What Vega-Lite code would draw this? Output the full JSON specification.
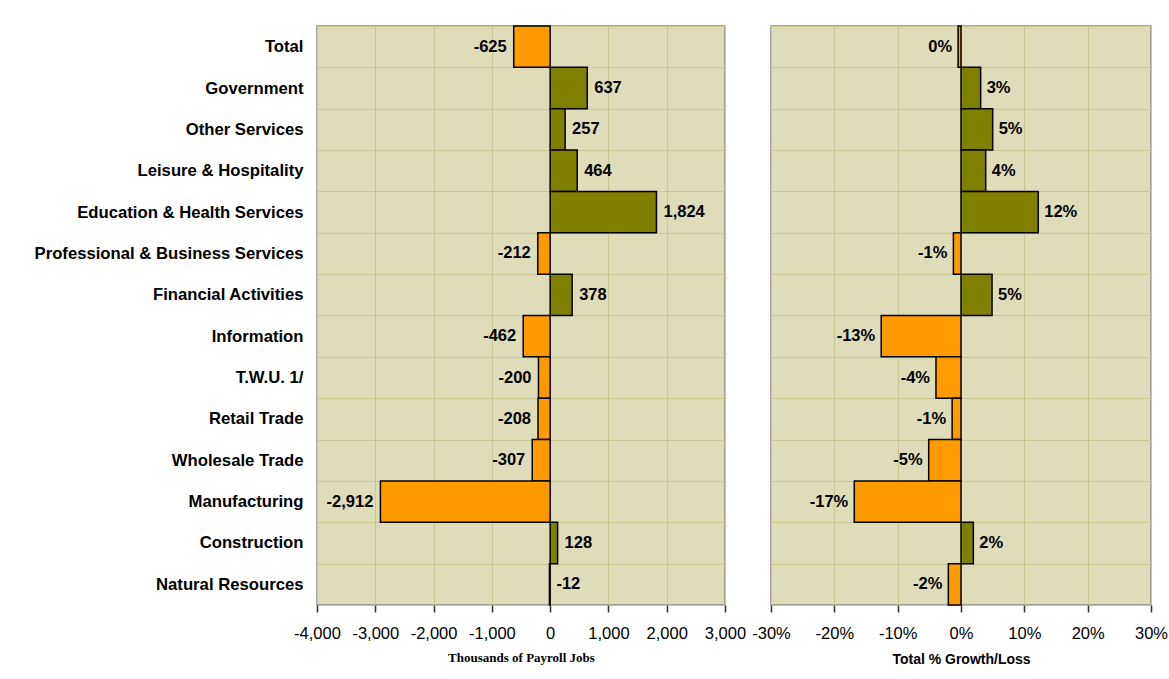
{
  "$schema": "https://vega.github.io/schema/vega-lite/v6.json",
  "background": "white",
  "padding": {"left": 33, "top": 17, "right": 5, "bottom": 5},
  "config": {
    "locale": {"number": {"decimal": ".", "thousands": ",", "grouping": [3], "currency": ["$", ""], "minus": "-"}},
    "font": "Liberation Sans",
    "view": {"stroke": "#8a8a8a", "strokeWidth": 1.5, "fill": "#DFDDB9"},
    "axis": {"gridColor": "#C9C78F", "gridWidth": 1, "gridOpacity": 1, "labelColor": "black", "titleColor": "black"}
  },
  "data": {
    "values": [
      {"sector": "Total", "jobs": -625, "pct": -0.0046},
      {"sector": "Government", "jobs": 637, "pct": 0.031},
      {"sector": "Other Services", "jobs": 257, "pct": 0.05},
      {"sector": "Leisure & Hospitality", "jobs": 464, "pct": 0.039},
      {"sector": "Education & Health Services", "jobs": 1824, "pct": 0.122},
      {"sector": "Professional & Business Services", "jobs": -212, "pct": -0.012},
      {"sector": "Financial Activities", "jobs": 378, "pct": 0.049},
      {"sector": "Information", "jobs": -462, "pct": -0.126},
      {"sector": "T.W.U. 1/", "jobs": -200, "pct": -0.0395},
      {"sector": "Retail Trade", "jobs": -208, "pct": -0.014},
      {"sector": "Wholesale Trade", "jobs": -307, "pct": -0.051},
      {"sector": "Manufacturing", "jobs": -2912, "pct": -0.1685},
      {"sector": "Construction", "jobs": 128, "pct": 0.0195},
      {"sector": "Natural Resources", "jobs": -12, "pct": -0.02}
    ]
  },
  "spacing": 46,
  "bounds": "flush",
  "hconcat": [
    {
      "width": 408,
      "height": 579,
      "encoding": {
        "y": {
          "field": "sector", "type": "nominal", "sort": null,
          "scale": {"paddingInner": 0, "paddingOuter": 0},
          "axis": {
            "title": null, "labelFontSize": 16.7, "labelFontWeight": "bold", "labelPadding": 14, "labelLimit": 0,
            "ticks": false, "tickSize": 0, "domain": false, "grid": true, "tickBand": "extent"
          }
        },
        "x": {
          "field": "jobs", "type": "quantitative",
          "scale": {"domain": [-4000, 3000], "nice": false},
          "axis": {
            "values": [-4000, -3000, -2000, -1000, 0, 1000, 2000, 3000],
            "format": ",d", "title": "Thousands of Payroll Jobs",
            "titleFont": "Liberation Serif", "titleFontSize": 13, "titleFontWeight": "bold", "titlePadding": 10,
            "labelFontSize": 16.5, "labelPadding": 13, "labelFlush": false, "labelOverlap": false,
            "tickSize": 7, "tickColor": "#333333", "tickWidth": 1.5, "domain": false, "grid": true
          }
        }
      },
      "layer": [
        {
          "mark": {"type": "bar", "stroke": "black", "strokeWidth": 1.5},
          "encoding": {
            "fill": {"condition": {"test": "datum.jobs < 0", "value": "#FF9A00"}, "value": "#808000"}
          }
        },
        {
          "transform": [{"filter": "datum.jobs > -50"}],
          "mark": {"type": "text", "align": "left", "baseline": "middle", "dx": 7, "fontSize": 16.5, "fontWeight": "bold", "color": "black"},
          "encoding": {"text": {"field": "jobs", "type": "quantitative", "format": ",d"}}
        },
        {
          "transform": [{"filter": "datum.jobs <= -50"}],
          "mark": {"type": "text", "align": "right", "baseline": "middle", "dx": -7, "fontSize": 16.5, "fontWeight": "bold", "color": "black"},
          "encoding": {"text": {"field": "jobs", "type": "quantitative", "format": ",d"}}
        }
      ]
    },
    {
      "width": 380,
      "height": 579,
      "encoding": {
        "y": {
          "field": "sector", "type": "nominal", "sort": null,
          "scale": {"paddingInner": 0, "paddingOuter": 0},
          "axis": {
            "title": null, "labels": false, "ticks": false, "tickSize": 0, "domain": false, "grid": true, "tickBand": "extent"
          }
        },
        "x": {
          "field": "pct", "type": "quantitative",
          "scale": {"domain": [-0.3, 0.3], "nice": false},
          "axis": {
            "values": [-0.3, -0.2, -0.1, 0, 0.1, 0.2, 0.3],
            "format": ".0%", "title": "Total % Growth/Loss",
            "titleFontSize": 14, "titleFontWeight": "bold", "titlePadding": 11,
            "labelFontSize": 16.5, "labelPadding": 13, "labelFlush": false, "labelOverlap": false,
            "tickSize": 7, "tickColor": "#333333", "tickWidth": 1.5, "domain": false, "grid": true
          }
        }
      },
      "layer": [
        {
          "mark": {"type": "bar", "stroke": "black", "strokeWidth": 1.5},
          "encoding": {
            "fill": {"condition": {"test": "datum.pct < 0", "value": "#FF9A00"}, "value": "#808000"}
          }
        },
        {
          "transform": [{"filter": "datum.pct >= 0"}],
          "mark": {"type": "text", "align": "left", "baseline": "middle", "dx": 6, "fontSize": 16.5, "fontWeight": "bold", "color": "black"},
          "encoding": {"text": {"field": "pct", "type": "quantitative", "format": ".0%"}}
        },
        {
          "transform": [{"filter": "datum.pct < 0"}],
          "mark": {"type": "text", "align": "right", "baseline": "middle", "dx": -6, "fontSize": 16.5, "fontWeight": "bold", "color": "black"},
          "encoding": {"text": {"field": "pct", "type": "quantitative", "format": ".0%"}}
        }
      ]
    }
  ]
}
